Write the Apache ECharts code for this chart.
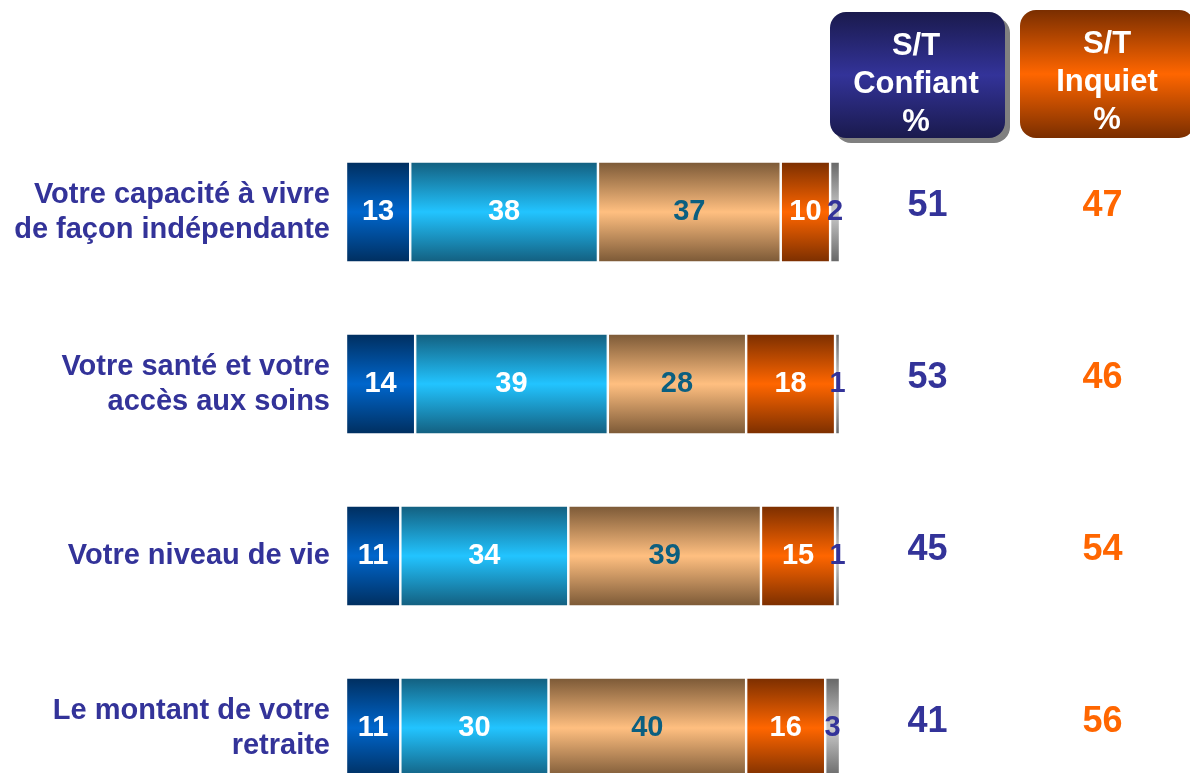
<!DOCTYPE html>
<html>
<head>
<meta charset="utf-8">
<script src="https://cdn.jsdelivr.net/npm/echarts@6/dist/echarts.min.js"></script>
<style>
  html, body { margin: 0; padding: 0; background: #fff; }
  #main { width: 1190px; height: 773px; }
</style>
</head>
<body>
<div id="main"></div>
<script>
// libellés des lignes
var categories = [
  'Votre capacité à vivre\nde façon indépendante',
  'Votre santé et votre\naccès aux soins',
  'Votre niveau de vie',
  'Le montant de votre\nretraite'
];
// répartition en %
var tresConfiant = [13, 14, 11, 11];
var plutotConfiant = [38, 39, 34, 30];
var plutotInquiet = [37, 28, 39, 40];
var tresInquiet = [10, 18, 15, 16];
var nsp = [2, 1, 1, 3];
// sous-totaux
var stConfiant = [51, 53, 45, 41];
var stInquiet = [47, 46, 54, 56];
var stColumns = ['Confiant', 'Inquiet'];

function vgrad(edge, mid) {
  return new echarts.graphic.LinearGradient(0, 0, 0, 1, [
    {offset: 0, color: edge},
    {offset: 0.5, color: mid},
    {offset: 1, color: edge}
  ]);
}

function seg(name, data, edge, mid, labelColor) {
  return {
    name: name,
    type: 'bar',
    stack: 'total',
    xAxisIndex: 0,
    yAxisIndex: 0,
    barWidth: 101,
    data: data,
    itemStyle: {color: vgrad(edge, mid), borderColor: '#fff', borderWidth: 1.2},
    label: {
      show: true,
      position: 'inside',
      color: labelColor,
      fontFamily: 'Liberation Sans, Arial',
      fontWeight: 'bold',
      fontSize: 29
    },
    silent: true
  };
}

function stSerie(name, data, idx, color) {
  return {
    name: name,
    type: 'scatter',
    xAxisIndex: 1,
    yAxisIndex: 1,
    symbolSize: 0,
    itemStyle: {opacity: 1},
    data: data.map(function (v, i) { return [idx, i, v]; }),
    label: {
      show: true,
      position: 'inside',
      offset: [0, -6],
      formatter: function (p) { return p.value[2]; },
      color: color,
      fontFamily: 'Liberation Sans, Arial',
      fontWeight: 'bold',
      fontSize: 36
    },
    silent: true
  };
}

var chart = echarts.init(document.getElementById('main'));

var option = {
  animation: false,
  backgroundColor: '#fff',
  grid: [
    {left: 346, width: 494, top: 212, height: 516},
    {left: 840, width: 360, top: 212, height: 516}
  ],
  xAxis: [
    {type: 'value', gridIndex: 0, min: 0, max: 100, show: false},
    {type: 'category', gridIndex: 1, data: stColumns, show: false}
  ],
  yAxis: [
    {
      type: 'category',
      gridIndex: 0,
      inverse: true,
      boundaryGap: false,
      data: categories,
      axisLine: {show: false},
      axisTick: {show: false},
      axisLabel: {
        margin: 16,
        color: '#333399',
        fontFamily: 'Liberation Sans, Arial',
        fontWeight: 'bold',
        fontSize: 29,
        lineHeight: 35,
        align: 'right'
      }
    },
    {type: 'category', gridIndex: 1, inverse: true, boundaryGap: false, data: categories, show: false}
  ],
  graphic: [
    {
      type: 'rect', shape: {x: 835, y: 17, width: 175, height: 126, r: 16},
      style: {fill: '#808080'}
    },
    {
      type: 'rect', shape: {x: 830, y: 12, width: 175, height: 126, r: 16},
      style: {fill: new echarts.graphic.LinearGradient(0, 0, 0, 1, [
        {offset: 0, color: '#1a1a4d'}, {offset: 0.5, color: '#333399'}, {offset: 1, color: '#1a1a4d'}
      ])}
    },
    {
      type: 'text', style: {
        x: 916, y: 84, text: 'S/T\nConfiant\n%', align: 'center', verticalAlign: 'middle',
        fill: '#fff', font: 'bold 31px "Liberation Sans", Arial', lineHeight: 38
      }
    },
    {
      type: 'rect', shape: {x: 1020, y: 10, width: 175, height: 128, r: 16},
      style: {fill: new echarts.graphic.LinearGradient(0, 0, 0, 1, [
        {offset: 0, color: '#7a2e00'}, {offset: 0.5, color: '#ff6600'}, {offset: 1, color: '#7a2e00'}
      ])}
    },
    {
      type: 'text', style: {
        x: 1107, y: 82, text: 'S/T\nInquiet\n%', align: 'center', verticalAlign: 'middle',
        fill: '#fff', font: 'bold 31px "Liberation Sans", Arial', lineHeight: 38
      }
    }
  ],
  series: [
    seg('Très confiant', tresConfiant, '#002e5e', '#0066cc', '#fff'),
    seg('Plutôt confiant', plutotConfiant, '#135e7e', '#22c4ff', '#fff'),
    seg('Plutôt inquiet', plutotInquiet, '#7a5836', '#ffbf80', '#0b5f80'),
    seg('Très inquiet', tresInquiet, '#7a2e00', '#ff6600', '#fff'),
    seg('NSP', nsp, '#666666', '#cccccc', '#333399'),
    stSerie('S/T Confiant', stConfiant, 0, '#333399'),
    stSerie('S/T Inquiet', stInquiet, 1, '#ff6600')
  ]
};

chart.setOption(option);
</script>
</body>
</html>
